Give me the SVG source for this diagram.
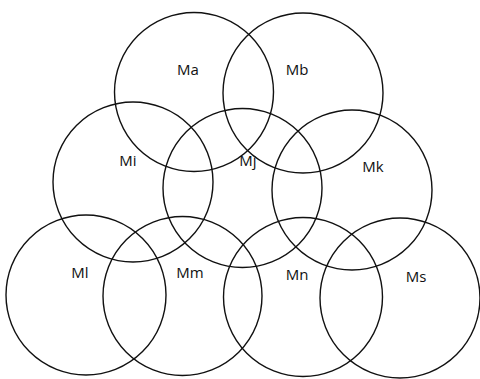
<svg xmlns="http://www.w3.org/2000/svg" width="480" height="379" viewBox="0 0 480 379">
<style>
.c{fill:none;stroke:#111;stroke-width:1.4}
.t{font-family:"Open Sans","Noto Sans",sans-serif;font-size:15px;fill:#111;text-anchor:middle}
</style>
<rect width="480" height="379" fill="#fff"/>
<g id="connectors"></g>
<g id="Ma"><circle class="c" cx="194" cy="92" r="79.5"/><text class="t" x="188" y="75">Ma</text></g>
<g id="Mb"><circle class="c" cx="303" cy="93" r="80"/><text class="t" x="297" y="75">Mb</text></g>
<g id="Mi"><circle class="c" cx="133" cy="182" r="80"/><text class="t" x="128" y="166">Mi</text></g>
<g id="Mj"><circle class="c" cx="242.5" cy="188" r="79.5"/><text class="t" x="248" y="166">Mj</text></g>
<g id="Mk"><circle class="c" cx="352" cy="190" r="80"/><text class="t" x="373" y="172">Mk</text></g>
<g id="Ml"><circle class="c" cx="86" cy="295" r="80"/><text class="t" x="80" y="278">Ml</text></g>
<g id="Mm"><circle class="c" cx="182.5" cy="296" r="79.5"/><text class="t" x="190" y="278">Mm</text></g>
<g id="Mn"><circle class="c" cx="303" cy="297" r="79.5"/><text class="t" x="297" y="280">Mn</text></g>
<g id="Ms"><circle class="c" cx="400" cy="298" r="80"/><text class="t" x="416" y="282">Ms</text></g>
</svg>
